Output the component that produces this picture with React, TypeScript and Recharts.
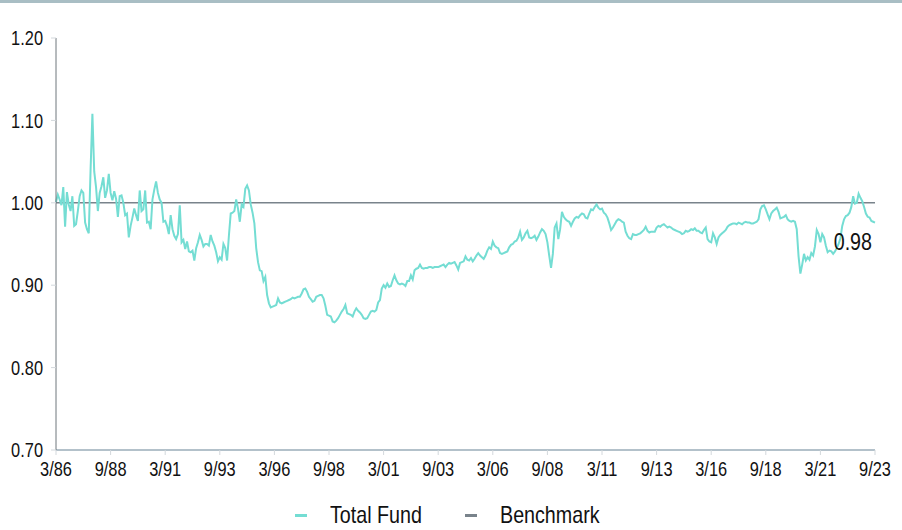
import React from 'react';
import { LineChart, Line, XAxis, YAxis } from 'recharts';

document.body.style.margin = '0';

// Arial-Narrow look: Liberation Sans squeezed horizontally
const FONT = '"Liberation Sans", Arial, sans-serif';
const NARROW = 0.82;
const FUND_COLOR = '#74ddd3';
const BENCH_COLOR = '#79838b';

// x tick labels, one every 30 months starting 3/86
const tickLabels = [
  '3/86', '9/88', '3/91', '9/93', '3/96', '9/98', '3/01', '9/03',
  '3/06', '9/08', '3/11', '9/13', '3/16', '9/18', '3/21', '9/23',
];

const yTicks = [0.7, 0.8, 0.9, 1.0, 1.1, 1.2];

const BENCHMARK = 1.0;

// monthly ratio, 3/86 .. 9/23 (10 months per row)
const totalFund = [
  1.001, 1.010, 1.004, 0.997, 1.019, 0.971, 1.013, 0.998, 0.990, 1.008,
  0.972, 0.974, 0.990, 1.008, 1.015, 1.012, 0.976, 0.968, 0.963, 1.040,
  1.108, 1.038, 1.019, 0.990, 1.012, 1.020, 1.031, 1.006, 1.015, 1.035,
  1.012, 1.003, 1.014, 1.005, 0.983, 1.008, 1.009, 1.000, 0.985, 0.987,
  0.958, 0.972, 0.982, 0.993, 0.985, 0.978, 1.015, 0.990, 0.992, 1.015,
  0.976, 0.977, 0.968, 1.004, 1.016, 1.026, 1.012, 1.004, 1.000, 0.977,
  0.978, 0.972, 0.962, 0.985, 0.968, 0.960, 0.956, 0.962, 0.997, 0.952,
  0.955, 0.944, 0.953, 0.941, 0.940, 0.942, 0.930, 0.945, 0.952, 0.961,
  0.955, 0.947, 0.950, 0.950, 0.948, 0.961, 0.953, 0.948, 0.940, 0.929,
  0.934, 0.931, 0.950, 0.945, 0.930, 0.960, 0.987, 0.988, 0.990, 1.004,
  0.993, 0.977, 0.998, 0.995, 1.017, 1.021, 1.015, 0.998, 0.988, 0.975,
  0.945, 0.928, 0.918, 0.917, 0.905, 0.910, 0.888, 0.878, 0.873, 0.874,
  0.875, 0.876, 0.884, 0.879, 0.878, 0.879, 0.880, 0.881, 0.882, 0.883,
  0.885, 0.884, 0.885, 0.886, 0.886, 0.890, 0.895, 0.896, 0.892, 0.886,
  0.883, 0.880, 0.881, 0.886, 0.887, 0.888, 0.888, 0.884, 0.875, 0.864,
  0.863, 0.862, 0.856, 0.855, 0.857, 0.860, 0.864, 0.868, 0.871, 0.876,
  0.866, 0.865, 0.864, 0.862, 0.868, 0.872, 0.869, 0.867, 0.864, 0.860,
  0.859, 0.860, 0.864, 0.868, 0.869, 0.868, 0.870, 0.879, 0.882, 0.896,
  0.900, 0.897, 0.902, 0.898, 0.899, 0.906, 0.912, 0.906, 0.902, 0.901,
  0.902, 0.901, 0.899, 0.905, 0.905, 0.912, 0.907, 0.918, 0.920, 0.921,
  0.925, 0.921, 0.920, 0.921, 0.921, 0.922, 0.922, 0.921, 0.922, 0.922,
  0.922, 0.923, 0.924, 0.925, 0.922, 0.925, 0.927, 0.926, 0.927, 0.928,
  0.924, 0.919, 0.927, 0.928, 0.929, 0.935, 0.931, 0.930, 0.933, 0.929,
  0.932, 0.936, 0.939, 0.936, 0.934, 0.932, 0.936, 0.942, 0.946, 0.944,
  0.953, 0.948, 0.946, 0.945, 0.939, 0.938, 0.939, 0.940, 0.941, 0.946,
  0.949, 0.950, 0.953, 0.954, 0.958, 0.965, 0.955, 0.958, 0.963, 0.966,
  0.958, 0.957, 0.958, 0.960, 0.955, 0.959, 0.964, 0.968, 0.966, 0.962,
  0.952, 0.936, 0.921, 0.938, 0.970, 0.975, 0.956, 0.968, 0.989, 0.983,
  0.980, 0.978, 0.977, 0.972, 0.977, 0.981, 0.983, 0.982, 0.985, 0.987,
  0.986, 0.982, 0.981, 0.987, 0.992, 0.991, 0.995, 0.998, 0.994, 0.992,
  0.993, 0.988, 0.986, 0.982, 0.975, 0.967, 0.970, 0.974, 0.978, 0.980,
  0.979, 0.977, 0.976, 0.965, 0.960, 0.957, 0.956, 0.962, 0.961, 0.961,
  0.962, 0.963, 0.965, 0.967, 0.971, 0.966, 0.964, 0.965, 0.965, 0.965,
  0.970, 0.972, 0.971, 0.973, 0.974, 0.972, 0.970, 0.971, 0.970, 0.968,
  0.967, 0.966, 0.965, 0.964, 0.962, 0.963, 0.966, 0.965, 0.966, 0.968,
  0.967, 0.969, 0.966, 0.966, 0.964, 0.963, 0.967, 0.970, 0.956, 0.953,
  0.952, 0.963, 0.958, 0.950, 0.958, 0.961, 0.963, 0.965, 0.967, 0.971,
  0.973, 0.974, 0.975, 0.975, 0.974, 0.976, 0.975, 0.974, 0.976, 0.977,
  0.976, 0.976, 0.975, 0.975, 0.976, 0.977, 0.980, 0.992, 0.996, 0.997,
  0.992, 0.986, 0.980, 0.987, 0.990, 0.992, 0.994, 0.989, 0.981, 0.982,
  0.983, 0.985, 0.980, 0.978, 0.977, 0.978, 0.977, 0.968, 0.935, 0.914,
  0.925, 0.938, 0.930, 0.934, 0.931, 0.939, 0.936, 0.947, 0.967, 0.962,
  0.952, 0.962, 0.958, 0.948, 0.940, 0.942, 0.941, 0.938, 0.941, 0.945,
  0.950, 0.957, 0.972, 0.980, 0.984, 0.985, 0.988, 0.995, 1.008, 0.999,
  1.000, 1.011, 1.006, 1.002, 0.995, 0.987, 0.983, 0.982, 0.978, 0.977,
  0.976,
];

const MONTHS_PER_TICK = 30;

const data = totalFund.map((v, i) => ({ m: i, fund: v, bench: BENCHMARK }));
const xTicks = tickLabels.map((_, i) => i * MONTHS_PER_TICK);
const lastIndex = totalFund.length - 1;

const XTick = (props: any) => {
  const { x, y, payload } = props;
  return (
    <g transform={`translate(${x},${y})`}>
      <text transform={`scale(${NARROW},1)`} textAnchor="middle" dy="0.71em" fontSize={20} fontFamily={FONT} fill="#111">
        {tickLabels[Math.round(payload.value / MONTHS_PER_TICK)]}
      </text>
    </g>
  );
};

const YTick = (props: any) => {
  const { x, y, payload } = props;
  return (
    <g transform={`translate(${x},${y})`}>
      <text transform={`scale(${NARROW},1)`} textAnchor="end" dy="0.355em" fontSize={20} fontFamily={FONT} fill="#111">
        {Number(payload.value).toFixed(2)}
      </text>
    </g>
  );
};

const EndLabel = (props: any) => {
  const { x, y, index, value } = props;
  if (index !== lastIndex) return null;
  return (
    <g transform={`translate(${x - 3},${y + 27})`}>
      <text transform={`scale(${NARROW},1)`} textAnchor="end" fontSize={24} fontFamily={FONT} fill="#111">
        {Number(value).toFixed(2)}
      </text>
    </g>
  );
};

const legendItems = [
  { name: 'Total Fund', color: FUND_COLOR, left: 295 },
  { name: 'Benchmark', color: BENCH_COLOR, left: 465 },
];

export default function App() {
  return (
    <div style={{ position: 'relative', width: 902, height: 530, background: '#fff', fontFamily: FONT }}>
      <div style={{ position: 'absolute', top: 0, left: 0, width: 902, height: 3, background: '#a9bec4' }} />
      <LineChart width={902} height={530} data={data} margin={{ top: 38, right: 27, left: 0, bottom: 50 }}>
        <XAxis
          dataKey="m"
          type="number"
          domain={[0, 450]}
          ticks={xTicks}
          interval={0}
          height={30}
          axisLine={{ stroke: '#b3c1ca', strokeWidth: 2 }}
          tickLine={{ stroke: '#d3d8dc' }}
          tickSize={5}
          tickMargin={7}
          tick={<XTick />}
        />
        <YAxis
          domain={[0.7, 1.2]}
          ticks={yTicks}
          width={56}
          axisLine={{ stroke: '#6f777d' }}
          tickLine={{ stroke: '#d3d8dc' }}
          tickSize={5}
          tickMargin={8}
          tick={<YTick />}
        />
        <Line
          dataKey="bench"
          stroke={BENCH_COLOR}
          strokeWidth={1.5}
          dot={false}
          isAnimationActive={false}
        />
        <Line
          dataKey="fund"
          type="linear"
          stroke={FUND_COLOR}
          strokeWidth={2}
          dot={false}
          isAnimationActive={false}
          label={<EndLabel />}
        />
      </LineChart>
      {legendItems.map((item) => (
        <div
          key={item.name}
          style={{ position: 'absolute', top: 501, left: item.left, height: 28, display: 'flex', alignItems: 'center' }}
        >
          <span style={{ display: 'inline-block', width: 12, height: 3, background: item.color, marginRight: 23 }} />
          <span
            style={{
              display: 'inline-block',
              fontSize: 24,
              lineHeight: '28px',
              color: '#111',
              transform: `scaleX(${NARROW})`,
              transformOrigin: 'left center',
              whiteSpace: 'nowrap',
            }}
          >
            {item.name}
          </span>
        </div>
      ))}
    </div>
  );
}
